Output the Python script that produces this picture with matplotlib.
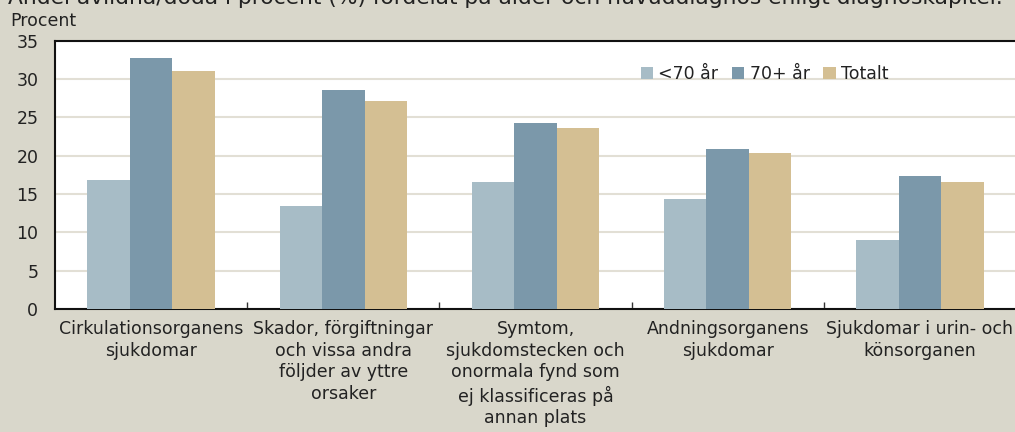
import matplotlib
matplotlib.use("Agg")
import matplotlib.pyplot as plt
import numpy as np

categories = [
    "Cirkulationsorganens\nsjukdomar",
    "Skador, förgiftningar\noch vissa andra\nföljder av yttre\norsaker",
    "Symtom,\nsjukdomstecken och\nonormala fynd som\nej klassificeras på\nannan plats",
    "Andningsorganens\nsjukdomar",
    "Sjukdomar i urin- och\nkönsorganen",
]
series_names = ["<70 år", "70+ år", "Totalt"]
under70 = [16.8, 13.4, 16.6, 14.3, 9.0]
over70 = [32.7, 28.6, 24.3, 20.9, 17.4]
totalt = [31.0, 27.1, 23.6, 20.3, 16.5]
yticks = [0, 5, 10, 15, 20, 25, 30, 35]
title = "Andel avlidna/döda i procent (%) fördelat på ålder och huvuddiagnos enligt diagnoskapitel."

colors = ["#a7bcc6", "#7b98aa", "#d4bf93"]
bg = "#d9d7cb"

plt.rcParams['font.family'] = ['DejaVu Sans']
fig = plt.figure(figsize=(10.15, 4.32), dpi=100, facecolor=bg)
ax = fig.add_axes([55/1015, 1-309/432, 961/1015, 268.5/432])
ax.set_facecolor("white")

x = np.arange(len(categories))
w = 0.221
for i, (vals, c, name) in enumerate(zip([under70, over70, totalt], colors, series_names)):
    ax.bar(x + (i-1)*w, vals, width=w, color=c, label=name, zorder=3, linewidth=0)

ax.set_xlim(-0.5, len(categories)-0.5)
ax.set_ylim(0, 35)
ax.set_yticks(yticks)
ax.tick_params(axis='y', length=0, labelsize=12.5, pad=12, colors="#222222")
ax.yaxis.grid(True, color="#e2dfd5", linewidth=1.5, zorder=0)
ax.set_axisbelow(True)

ax.set_xticks(x)
ax.set_xticklabels(categories, fontsize=12.5, color="#222222", linespacing=1.26)
ax.tick_params(axis='x', which='major', length=0, pad=8)
ax.set_xticks(np.arange(0.5, len(categories)-0.5, 1), minor=True)
ax.tick_params(axis='x', which='minor', direction='in', length=5, width=1, color="#333333")

for s in ["left", "top", "bottom"]:
    ax.spines[s].set_color("#111111")
    ax.spines[s].set_linewidth(1.5)
ax.spines["right"].set_visible(False)

leg = ax.legend(loc="upper left", bbox_to_anchor=((634-55)/961, (309-58)/268.5),
                ncol=3, frameon=False, fontsize=12.5, handlelength=0.7, handleheight=0.7,
                handletextpad=0.3, columnspacing=0.8, borderaxespad=0)
for t in leg.get_texts():
    t.set_color("#222222")

fig.text(10/1015, 1-26/432, "Procent", fontsize=12.5, color="#222222", va="baseline")
fig.text(8/1015, 1-4/432, title, fontsize=15.7, color="#222222", va="baseline")

fig.savefig("out.png", dpi=100, facecolor=bg)
